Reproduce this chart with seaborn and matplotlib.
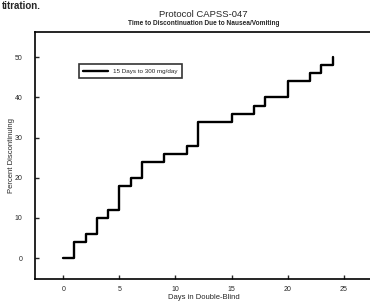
import pandas as pd
import matplotlib
matplotlib.use("Agg")
import matplotlib.pyplot as plt
import seaborn as sns

# Step data
days = [0, 1, 2, 3, 4, 5, 6, 7, 9, 11, 12, 15, 17, 18, 20, 22, 23, 24, 24]
percent = [0, 4, 6, 10, 12, 18, 20, 24, 26, 28, 34, 36, 38, 40, 44, 46, 48, 48, 50]
series_label = "15 Days to 300 mg/day"
x_ticks = [0, 5, 10, 15, 20, 25]
y_ticks = [0, 10, 20, 30, 40, 50]

df = pd.DataFrame({"Days": days, "Percent": percent, "Group": series_label})

sns.set_style("ticks")
plt.rcParams["font.family"] = ["Liberation Sans", "DejaVu Sans"]

fig = plt.figure(figsize=(3.7, 3.02), dpi=100)
ax = fig.add_axes([0.095, 0.076, 0.91, 0.818])

sns.lineplot(data=df, x="Days", y="Percent", hue="Group", palette=["black"],
             estimator=None, sort=False, drawstyle="steps-post",
             linewidth=1.7, ax=ax)

ax.set_xlim(-2.5, 27.5)
ax.set_ylim(-5.2, 56.3)
ax.set_xticks(x_ticks)
ax.set_yticks(y_ticks)
ax.tick_params(direction="in", length=3, width=1, labelsize=5)
ax.tick_params(axis="x", pad=5)
ax.tick_params(axis="y", pad=9)
for side in ["left", "bottom", "top"]:
    ax.spines[side].set_linewidth(1.2)
    ax.spines[side].set_color("black")
ax.spines["right"].set_visible(False)

ax.set_xlabel("Days in Double-Blind", fontsize=5.5, labelpad=1)
ax.set_ylabel("Percent Discontinuing", fontsize=5.5, labelpad=0)

leg = ax.legend(loc="upper left", bbox_to_anchor=(0.13, 0.87), fontsize=4.5,
                frameon=True, fancybox=False, edgecolor="black",
                handlelength=4, borderpad=0.7, borderaxespad=0)
leg.get_frame().set_linewidth(1.2)
leg.set_title(None)

fig.text(0.55, 0.944, "Protocol CAPSS-047", ha="center", fontsize=6.8)
fig.text(0.55, 0.917, "Time to Discontinuation Due to Nausea/Vomiting",
         ha="center", fontsize=4.7, fontweight="bold")
fig.text(0.005, 0.998, "titration.", ha="left", va="top", fontsize=7, fontweight="bold")

fig.savefig("out.png", dpi=100)
